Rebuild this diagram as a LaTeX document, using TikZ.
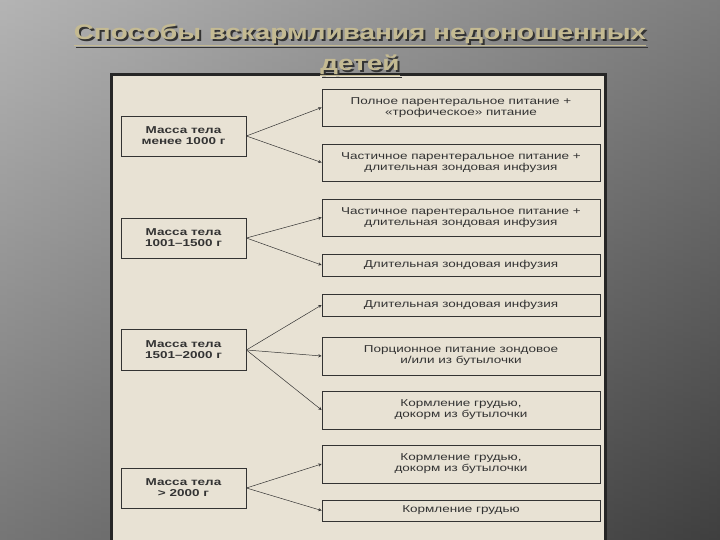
\documentclass[tikz,border=0pt]{standalone}
\usepackage{fontspec}
\setmainfont{Liberation Sans}
\newfontfamily\wide[FakeStretch=1.35]{Liberation Sans}
\newfontfamily\widetitle[FakeStretch=1.33]{Liberation Sans}
\begin{document}
\begin{tikzpicture}[x=1pt,y=-1pt,
  box/.style={draw=black!80,line width=0.8pt,fill=none,inner sep=0pt,font=\wide\fontsize{10}{11}\selectfont,align=center,text=black!80},
  lbox/.style={box,font=\wide\bfseries\fontsize{10}{11}\selectfont},
  ttl/.style={font=\widetitle\bfseries\fontsize{21}{31}\selectfont,align=center},
  arr/.style={->,>=stealth,black!80,line width=0.5pt}]
\useasboundingbox (0,0) rectangle (720,540);
\shade[left color=black!45,right color=black!78] (0,0) rectangle (720,540);
\shade[top color=white!0,bottom color=black!70,opacity=0.35] (0,0) rectangle (720,540);
\fill[black!85] (110,73) rectangle (607,540);
\fill[fill={rgb,255:red,232;green,226;blue,212}] (113,76) rectangle (604,540);
\node[ttl,text=black!80] (tsh) at (362,52) {\underline{Способы вскармливания недоношенных}\\\underline{детей}};
\node[ttl,text={rgb,255:red,196;green,186;blue,146}] (title) at (360,50) {\underline{Способы вскармливания недоношенных}\\\underline{детей}};
\node[lbox,minimum width=125,minimum height=40] (l1) at (183.5,136) {Масса тела\\менее 1000 г};
\node[lbox,minimum width=125,minimum height=40] (l2) at (183.5,238) {Масса тела\\1001–1500 г};
\node[lbox,minimum width=125,minimum height=41] (l3) at (183.5,350) {Масса тела\\1501–2000 г};
\node[lbox,minimum width=125,minimum height=40] (l4) at (183.5,488) {Масса тела\\> 2000 г};
\node[box,minimum width=278,minimum height=37] (r1) at (461,107.5) {Полное парентеральное питание +\\«трофическое» питание};
\node[box,minimum width=278,minimum height=37] (r2) at (461,162.5) {Частичное парентеральное питание +\\длительная зондовая инфузия};
\node[box,minimum width=278,minimum height=37] (r3) at (461,217.5) {Частичное парентеральное питание +\\длительная зондовая инфузия};
\node[box,minimum width=278,minimum height=22] (r4) at (461,265) {Длительная зондовая инфузия};
\node[box,minimum width=278,minimum height=22] (r5) at (461,305) {Длительная зондовая инфузия};
\node[box,minimum width=278,minimum height=38] (r6) at (461,356) {Порционное питание зондовое\\и/или из бутылочки};
\node[box,minimum width=278,minimum height=38] (r7) at (461,410) {Кормление грудью,\\докорм из бутылочки};
\node[box,minimum width=278,minimum height=38] (r8) at (461,464) {Кормление грудью,\\докорм из бутылочки};
\node[box,minimum width=278,minimum height=21] (r9) at (461,510.5) {Кормление грудью};
\foreach \a/\b in {l1/r1,l1/r2,l2/r3,l2/r4,l3/r5,l3/r6,l3/r7,l4/r8,l4/r9}
  \draw[arr] (\a.east) -- (\b.west);
\end{tikzpicture}
\end{document}
